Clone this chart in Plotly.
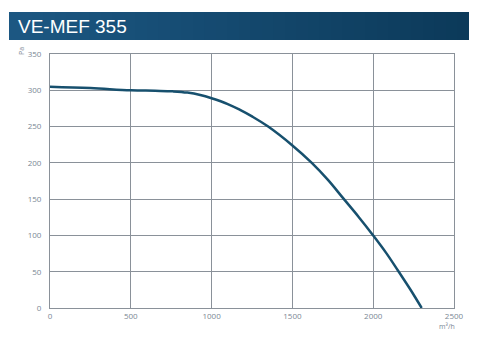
import plotly.graph_objects as go

title_text = "VE-MEF 355"
airflow = [0, 250, 500, 650, 760, 850, 930, 1000, 1100, 1176, 1250, 1350, 1500, 1620, 1720, 1815, 1910, 2000, 2080, 2155, 2230, 2300]
pressure = [305, 303, 300, 299.3, 298.5, 296.8, 293.5, 289, 281, 273, 264, 250, 224, 200, 176.5, 151, 125.5, 100, 76, 51, 25.5, 0]
x_ticks = [0, 500, 1000, 1500, 2000, 2500]
y_ticks = [0, 50, 100, 150, 200, 250, 300, 350]

W, H = 485, 355
L, R, T, B = 50, 31, 54, 47

fig = go.Figure()
fig.add_trace(go.Scatter(
    x=airflow, y=pressure, mode="lines",
    line=dict(color="#17506e", width=2.5, shape="spline", smoothing=1.1),
    hoverinfo="skip", showlegend=False,
))

pw = W - L - R
ph = H - T - B
def px_to_paper_x(px):
    return (px - L) / pw
def px_to_paper_y(py):
    return (H - B - py) / ph

shapes = []
n = 40
x0, x1 = 9, 469
c0 = (0x1c, 0x57, 0x82)
c1 = (0x0c, 0x3a, 0x5a)
for i in range(n):
    a = x0 + (x1 - x0) * i / n
    b = x0 + (x1 - x0) * (i + 1) / n + 0.5
    t = i / (n - 1)
    c = tuple(round(c0[k] + (c1[k] - c0[k]) * t) for k in range(3))
    shapes.append(dict(type="rect", xref="paper", yref="paper",
                       x0=px_to_paper_x(a), x1=px_to_paper_x(min(b, x1)),
                       y0=px_to_paper_y(40), y1=px_to_paper_y(12),
                       fillcolor="rgb(%d,%d,%d)" % c, line=dict(width=0), layer="above"))

axis_common = dict(showgrid=True, gridcolor="#8a9199", gridwidth=1,
                   showline=True, linecolor="#8a9199", linewidth=1, mirror=True,
                   zeroline=False, ticks="",
                   tickfont=dict(family="Open Sans", size=8, color="#7a8794"))

fig.update_layout(
    width=W, height=H, autosize=False,
    margin=dict(l=L, r=R, t=T, b=B),
    paper_bgcolor="white", plot_bgcolor="white",
    xaxis=dict(range=[0, 2500], tickvals=x_ticks, **axis_common),
    yaxis=dict(range=[0, 350], tickvals=y_ticks, ticklabelstandoff=6, **axis_common),
    shapes=shapes,
    annotations=[
        dict(text=title_text, xref="paper", yref="paper",
             x=px_to_paper_x(16), y=px_to_paper_y(26.5), xanchor="left", yanchor="middle",
             showarrow=False, font=dict(family="Liberation Sans", size=19, color="white")),
        dict(text="Pa", xref="paper", yref="paper", textangle=-90,
             x=px_to_paper_x(21), y=px_to_paper_y(51), xanchor="center", yanchor="middle",
             showarrow=False, font=dict(family="Open Sans", size=7, color="#7a8794")),
        dict(text="m³/h", xref="paper", yref="paper",
             x=px_to_paper_x(447), y=px_to_paper_y(326), xanchor="center", yanchor="middle",
             showarrow=False, font=dict(family="Open Sans", size=7, color="#7a8794")),
    ],
)

fig.write_html("out.html", config={"displayModeBar": False},
               post_script="document.body.style.margin='0';document.body.style.overflow='hidden';")
